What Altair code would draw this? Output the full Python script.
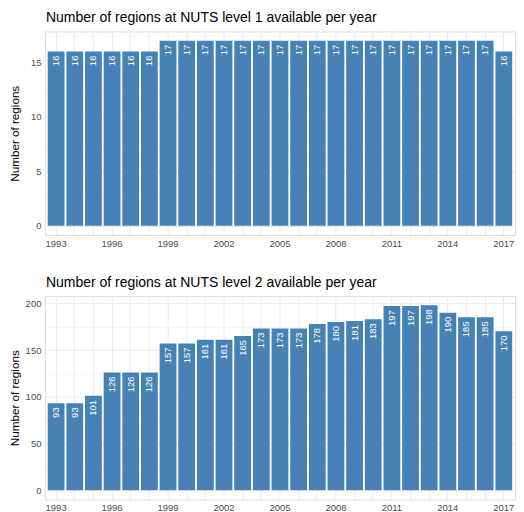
import altair as alt
import pandas as pd

years = [1993, 1994, 1995, 1996, 1997, 1998, 1999, 2000, 2001, 2002, 2003, 2004, 2005,
         2006, 2007, 2008, 2009, 2010, 2011, 2012, 2013, 2014, 2015, 2016, 2017]
nuts1 = [16, 16, 16, 16, 16, 16, 17, 17, 17, 17, 17, 17, 17,
         17, 17, 17, 17, 17, 17, 17, 17, 17, 17, 17, 16]
nuts2 = [93, 93, 101, 126, 126, 126, 157, 157, 161, 161, 165, 173, 173,
         173, 178, 180, 181, 183, 197, 197, 198, 190, 185, 185, 170]

title1 = "Number of regions at NUTS level 1 available per year"
title2 = "Number of regions at NUTS level 2 available per year"
y_title = "Number of regions"

ticks1 = [0, 2.5, 5, 7.5, 10, 12.5, 15, 17.5]
ticks2 = [0, 25, 50, 75, 100, 125, 150, 175, 200]

FONT = "Liberation Sans"
BAR = "#4682B4"
GRID = "#EBEBEB"


def panel(values, title, ticks, major, ymax, h):
    df = pd.DataFrame({"year": years, "n": values})
    lo = -0.05 * ymax
    hi = ymax * 1.05
    x = alt.X(
        "year:O",
        scale=alt.Scale(paddingInner=0.1, paddingOuter=0.15),
        axis=alt.Axis(
            title=None,
            labelAngle=0,
            labelExpr="(datum.value - 1993) % 3 == 0 ? datum.label : ''",
            bandPosition=0.5,
            grid=True,
            gridColor=GRID,
            gridWidth=1,
            ticks=False,
            domain=False,
            labelPadding=3,
            labelFont=FONT,
            labelFontSize=9.5,
            labelColor="#4D4D4D",
        ),
    )
    y = alt.Y(
        "n:Q",
        scale=alt.Scale(domain=[lo, hi], nice=False, zero=False),
        axis=alt.Axis(
            title=y_title,
            values=ticks,
            labelExpr=f"datum.value % {major} == 0 ? datum.label : ''",
            grid=True,
            gridColor=GRID,
            gridWidth={"condition": {"test": f"datum.value % {major} == 0", "value": 1}, "value": 0.5},
            ticks=False,
            domain=False,
            labelPadding=4,
            labelFont=FONT,
            labelFontSize=9.5,
            labelColor="#4D4D4D",
            titleFont=FONT,
            titleFontSize=11.7,
            titleFontWeight="normal",
            titleColor="black",
            titleX=-30,
            titleAngle=270,
            titleAlign="center",
            titleBaseline="middle",
        ),
    )
    base = alt.Chart(df)
    bars = base.mark_bar(color=BAR).encode(x=x, y=y, y2=alt.datum(0))
    labels = base.mark_text(
        angle=270, align="right", baseline="middle", dx=-4,
        color="white", font=FONT, fontSize=9.5,
    ).encode(x=x, y=y, text="n:Q")
    return alt.layer(bars, labels).properties(
        width=471,
        height=h,
        title=alt.TitleParams(
            title, anchor="start", fontSize=14, font=FONT, dx=36,
            fontWeight="normal", color="black", offset=6,
        ),
    )


top = panel(nuts1, title1, ticks1, 5, 17, 204)
bottom = panel(nuts2, title2, ticks2, 50, 198, 204)

chart = alt.vconcat(top, bottom, spacing=27).properties(
    padding={"left": 1, "top": 2, "right": 0, "bottom": 0}
).configure_view(stroke=None).configure(background="white")

chart.save("out.html", embed_options={"renderer": "svg", "actions": False})
